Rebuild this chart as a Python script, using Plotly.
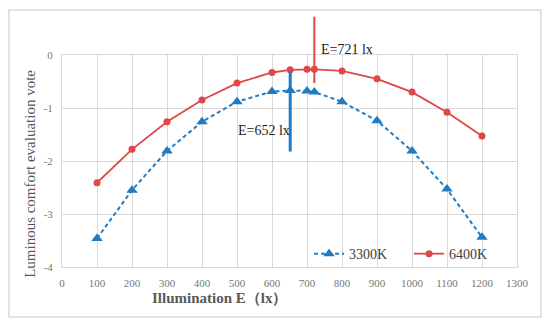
import plotly.graph_objects as go

# ---- data ----
illuminance = [100, 200, 300, 400, 500, 600, 652, 700, 721, 800, 900, 1000, 1100, 1200]
vote_3300K = [-3.46, -2.55, -1.81, -1.26, -0.88, -0.69, -0.67, -0.68, -0.70, -0.88, -1.24, -1.81, -2.53, -3.44]
vote_6400K = [-2.41, -1.78, -1.26, -0.85, -0.53, -0.33, -0.28, -0.27, -0.27, -0.30, -0.45, -0.70, -1.08, -1.53]
series_names = ["3300K", "6400K"]

# optimum markers: (x, y_top, y_bottom)
opt_3300K = (652, -0.28, -1.82)
opt_6400K = (721, 0.75, -0.53)
opt_labels = ["E=652 lx", "E=721 lx"]

x_ticks = list(range(0, 1301, 100))
y_ticks = [0, -1, -2, -3, -4]

BLUE = "#1F7BC3"
RED = "#E04848"
GRID = "#D9D9D9"
SERIF = "Liberation Serif, DejaVu Serif, serif"

fig = go.Figure()
fig.add_trace(go.Scatter(
    x=illuminance, y=vote_3300K, name=series_names[0], mode="lines+markers",
    line=dict(color=BLUE, width=2, dash="4px,3px"),
    marker=dict(symbol="triangle-up", size=10, color=BLUE),
))
fig.add_trace(go.Scatter(
    x=illuminance, y=vote_6400K, name=series_names[1], mode="lines+markers",
    line=dict(color=RED, width=1.8),
    marker=dict(symbol="circle", size=7, color=RED),
))

# vertical optimum lines (annotations with arrows, not clipped)
for (xv, ytop, ybot), col, w in [(opt_3300K, BLUE, 3), (opt_6400K, RED, 2)]:
    fig.add_annotation(x=xv, y=ybot, ax=xv, ay=ytop, axref="x", ayref="y",
                       xref="x", yref="y", text="", showarrow=True,
                       arrowhead=0, arrowwidth=w, arrowcolor=col,
                       standoff=0, startstandoff=0)

fig.add_annotation(x=497, y=-1.415, xref="x", yref="y", text=opt_labels[0],
                   showarrow=False, xanchor="left", yanchor="middle",
                   font=dict(family=SERIF, size=14, color="#222222"))
fig.add_annotation(x=734, y=1.0236, xref="x", yref="paper", text=opt_labels[1],
                   showarrow=False, xanchor="left", yanchor="middle",
                   font=dict(family=SERIF, size=14, color="#222222"))

# axis titles as annotations
fig.add_annotation(x=-0.070, y=0.44, xref="paper", yref="paper",
                   text="Luminous comfort evaluation vote", textangle=-90,
                   showarrow=False, xanchor="center", yanchor="middle",
                   font=dict(family=SERIF, size=15, color="#595959"))
fig.add_annotation(x=0.347, y=-0.146, xref="paper", yref="paper",
                   text="<b>Illumination E（lx）</b>",
                   showarrow=False, xanchor="center", yanchor="middle",
                   font=dict(family=SERIF, size=15, color="#595959"))

# outer chart border
fig.add_shape(type="rect", xref="paper", yref="paper",
              x0=-0.1165, x1=1.0527, y0=-0.2358, y1=1.2123,
              line=dict(color=GRID, width=1.5), fillcolor="rgba(0,0,0,0)",
              layer="below")

fig.update_xaxes(range=[0, 1300], tickvals=x_ticks, ticktext=[str(v) for v in x_ticks],
                 showgrid=True, gridcolor=GRID, gridwidth=1,
                 zeroline=False, showline=True, linecolor=GRID, mirror=True,
                 ticks="", ticklabelstandoff=6,
                 tickfont=dict(family=SERIF, size=11, color="#777777"))
fig.update_yaxes(range=[-4, 0], tickvals=y_ticks, ticktext=[str(v) for v in y_ticks],
                 showgrid=True, gridcolor=GRID, gridwidth=1,
                 zeroline=False, showline=True, linecolor=GRID, mirror=True,
                 ticks="", ticklabelstandoff=6,
                 tickfont=dict(family=SERIF, size=11, color="#777777"))

fig.update_layout(
    width=550, height=328,
    margin=dict(l=62, r=33, t=55, b=61),
    paper_bgcolor="white", plot_bgcolor="white",
    showlegend=True,
    legend=dict(orientation="h", x=0.543, y=0.061, xanchor="left", yanchor="middle",
                bgcolor="rgba(0,0,0,0)", font=dict(family=SERIF, size=14, color="#404040"),
                entrywidth=55, itemwidth=30),
)

fig.write_html("out.html", config={"displayModeBar": False},
               post_script="document.body.style.margin='0';")
